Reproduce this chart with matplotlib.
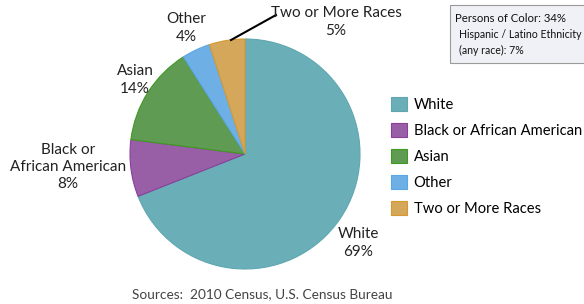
import matplotlib.pyplot as plt
from matplotlib.patches import Patch, Rectangle

plt.rcParams['font.family'] = ['Lato', 'DejaVu Sans']

groups = ['White', 'Black or African American', 'Asian', 'Other', 'Two or More Races']
shares = [69, 8, 14, 4, 5]
colors = ['#6aafb8', '#985fa6', '#5f9b52', '#6eb0e6', '#d4a75a']
edges = ['#5fa6b0', '#8a3f9a', '#3f9a20', '#5aa6e6', '#d49a30']

fig = plt.figure(figsize=(5.84, 3.04), dpi=100)
W, H = 584, 304
cx, cy, r = 245, 154, 115
ax = fig.add_axes([(cx - r) / W, (H - cy - r) / H, 2 * r / W, 2 * r / H])
wedges, _ = ax.pie(shares, colors=colors, startangle=90, counterclock=False,
                   wedgeprops=dict(linewidth=0.8))
for w, e in zip(wedges, edges):
    w.set_edgecolor(e)
ax.set_xlim(-1, 1)
ax.set_ylim(-1, 1)
ax.set_aspect('equal')

def ftext(x, y, s, **kw):
    fig.text(x / W, 1 - y / H, s, **kw)

lab = dict(fontsize=11, ha='center', va='center', color='#222222', linespacing=1.3)
ftext(358, 243, 'White\n69%', **lab)
ftext(68, 167, 'Black or\nAfrican American\n8%', **lab)
ftext(135, 80, 'Asian\n14%', **lab)
ftext(186, 28, 'Other\n4%', **lab)
ftext(336, 22, 'Two or More Races\n5%', **lab)
fig.add_artist(plt.Line2D([231 / W, 276 / W], [1 - 40 / H, 1 - 15 / H], color='black', lw=1.5))

handles = [Patch(facecolor=c, edgecolor=e, lw=0.8) for c, e in zip(colors, edges)]
fig.legend(handles, groups, loc='upper left', bbox_to_anchor=(385 / W, 1 - 91 / H),
           frameon=False, fontsize=10.6, handlelength=1.1, handleheight=1.1,
           handletextpad=0.45, labelspacing=0.74, borderaxespad=0)

fig.add_artist(Rectangle((450 / W, 1 - 63 / H), 140 / W, 58 / H, transform=fig.transFigure,
                         facecolor='#eff1f6', edgecolor='#9a9a9a', lw=0.8))
ftext(455, 19, 'Persons of Color: 34%', fontsize=8.2, va='center', color='#111111')
ftext(459, 35, 'Hispanic / Latino Ethnicity', fontsize=7.6, va='center', color='#111111')
ftext(459, 50, '(any race): 7%', fontsize=7.6, va='center', color='#111111')

ftext(262, 294, 'Sources:  2010 Census, U.S. Census Bureau', fontsize=9.8, ha='center',
      va='center', color='#444444')

fig.savefig('out.png', dpi=100)
